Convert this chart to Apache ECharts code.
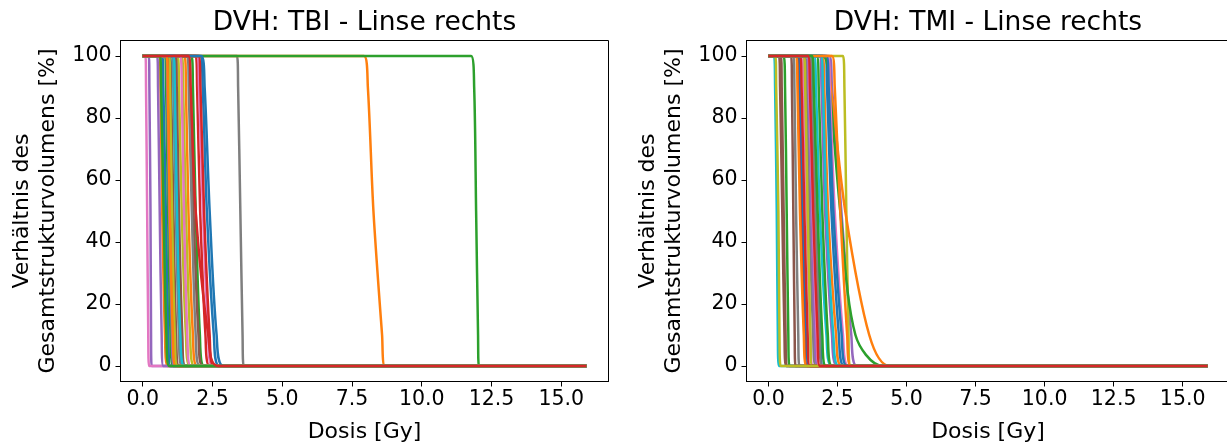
<!DOCTYPE html>
<html>
<head>
<meta charset="utf-8">
<script src="https://cdn.jsdelivr.net/npm/echarts@6/dist/echarts.min.js"></script>
<style>
html, body { margin: 0; background: #fff; }
#main { width: 1227px; height: 443px; }
</style>
</head>
<body>
<div id="main"></div>
<script>
const volumeLevels = [100, 90, 50, 10, 0];
const doseEnd = 15.9;
const titles = ['DVH: TBI - Linse rechts', 'DVH: TMI - Linse rechts'];
const xTicks = [0, 2.5, 5, 7.5, 10, 12.5, 15];
const yTicks = [0, 20, 40, 60, 80, 100];

// one row per patient curve: dose at 100, 90, 50, 10, 0 %
const tbiDoses = [
    [2.05, 2.15, 2.30, 2.55, 2.75],
    [1.50, 1.55, 1.64, 1.80, 1.95],
    [1.75, 1.80, 1.90, 2.05, 2.20],
    [1.90, 1.95, 2.06, 2.25, 2.40],
    [0.22, 0.24, 0.28, 0.30, 0.32],
    [1.65, 1.70, 1.82, 2.00, 2.15],
    [0.10, 0.12, 0.16, 0.20, 0.23],
    [1.60, 1.65, 1.76, 1.90, 2.05],
    [1.25, 1.30, 1.40, 1.55, 1.70],
    [0.65, 0.70, 0.77, 0.88, 0.98],
    [0.70, 0.74, 0.83, 0.92, 1.00],
    [0.60, 0.64, 0.70, 0.80, 0.90],
    [0.80, 0.84, 0.91, 1.00, 1.10],
    [0.92, 0.96, 1.04, 1.15, 1.25],
    [0.52, 0.55, 0.61, 0.68, 0.74],
    [0.98, 1.02, 1.10, 1.20, 1.30],
    [1.95, 2.02, 2.16, 2.35, 2.50],
    [3.38, 3.42, 3.50, 3.58, 3.62],
    [1.40, 1.45, 1.55, 1.70, 1.85],
    [1.05, 1.10, 1.19, 1.32, 1.45],
    [1.12, 1.17, 1.26, 1.40, 1.52],
    [7.93, 8.07, 8.27, 8.58, 8.68],
    [11.77, 11.88, 11.95, 12.02, 12.05],
    [2.00, 2.07, 2.20, 2.40, 2.55],
    [0.85, 0.88, 0.95, 1.05, 1.12],
    [1.18, 1.22, 1.30, 1.42, 1.52],
    [1.35, 1.40, 1.48, 1.60, 1.72],
    [1.08, 1.12, 1.20, 1.30, 1.40],
    [0.95, 0.98, 1.05, 1.15, 1.25],
    [1.10, 1.15, 1.23, 1.35, 1.50],
    [2.10, 2.22, 2.40, 2.65, 2.90],
    [0.85, 0.90, 0.97, 1.08, 1.18],
    [0.62, 0.66, 0.75, 0.85, 0.95],
    [1.64, 1.72, 1.90, 2.35, 2.70]
];

const tmiDoses = [
    [1.55, 1.62, 1.74, 1.88, 1.98],
    [1.95, 2.02, 2.16, 2.45, 2.65],
    [0.55, 0.60, 0.66, 0.72, 0.76],
    [1.45, 1.52, 1.62, 1.75, 1.85],
    [2.20, 2.30, 2.64, 3.00, 3.20],
    [0.38, 0.42, 0.50, 0.58, 0.64],
    [1.22, 1.28, 1.38, 1.52, 1.62],
    [1.32, 1.38, 1.48, 1.62, 1.72],
    [2.70, 2.75, 2.82, 2.90, 2.95],
    [0.20, 0.24, 0.30, 0.34, 0.38],
    [2.05, 2.12, 2.28, 2.55, 2.75],
    [2.00, 2.25, 2.78, 3.65, 4.40],
    [1.95, 2.20, 2.60, 3.15, 4.15],
    [1.05, 1.10, 1.20, 1.32, 1.40],
    [1.38, 1.45, 1.55, 1.68, 1.78],
    [0.82, 0.85, 0.90, 0.95, 0.98],
    [2.15, 2.22, 2.40, 2.70, 2.90],
    [0.90, 0.94, 1.00, 1.08, 1.12],
    [1.28, 1.33, 1.42, 1.52, 1.58],
    [1.65, 1.72, 1.86, 2.10, 2.30],
    [1.10, 1.15, 1.25, 1.38, 1.48],
    [1.00, 1.05, 1.14, 1.28, 1.38],
    [1.75, 1.82, 1.95, 2.15, 2.30],
    [1.15, 1.20, 1.30, 1.42, 1.50],
    [1.85, 1.92, 2.05, 2.30, 2.50],
    [0.45, 0.48, 0.55, 0.62, 0.66],
    [1.42, 1.48, 1.60, 1.75, 1.85],
    [1.50, 1.56, 1.70, 1.85, 1.95],
    [0.25, 0.28, 0.36, 0.40, 0.44],
    [1.90, 1.97, 2.10, 2.35, 2.55],
    [2.10, 2.18, 2.35, 2.65, 2.85],
    [2.30, 2.40, 2.60, 2.85, 2.98],
    [1.58, 1.64, 1.78, 1.95, 2.08],
    [1.43, 1.50, 1.62, 1.78, 1.86]
];

const tab10 = ['#1f77b4', '#ff7f0e', '#2ca02c', '#d62728', '#9467bd',
               '#8c564b', '#e377c2', '#7f7f7f', '#bcbd22', '#17becf'];

const font = 'DejaVu Sans';

// axes frames (matplotlib-like 5% margins around the data)
const boxes = [
    { left: 120.5, top: 40.5, width: 488, height: 341 },
    { left: 746.5, top: 40.5, width: 483, height: 341 }
];
const xMin = -0.795, xMax = 16.695;
const yMin = -5, yMax = 105;

function curveData(row) {
    const pts = [[0, 100]];
    volumeLevels.forEach((v, k) => pts.push([row[k], v]));
    pts.push([doseEnd, 0]);
    return pts;
}

const tickStyle = { show: true, length: 5, lineStyle: { color: '#000', width: 1 } };

const grids = boxes.map(b => Object.assign({
    show: true, borderColor: '#000', borderWidth: 1, backgroundColor: 'transparent',
    containLabel: false, outerBoundsMode: 'none'
}, b));

const xAxes = boxes.map((b, i) => ({
    type: 'value', gridIndex: i, min: xMin, max: xMax,
    name: 'Dosis [Gy]', nameLocation: 'middle', nameGap: 40,
    nameTextStyle: { fontFamily: font, fontSize: 22, color: '#000' },
    axisLine: { show: true, onZero: false, lineStyle: { color: '#000', width: 1 } },
    axisTick: Object.assign({ customValues: xTicks }, tickStyle),
    axisLabel: { customValues: xTicks, fontFamily: font, fontSize: 20.5, color: '#000',
                 margin: 8, formatter: v => v.toFixed(1) },
    splitLine: { show: false }
}));

const yAxes = boxes.map((b, i) => ({
    type: 'value', gridIndex: i, min: yMin, max: yMax,
    name: 'Verhältnis des\nGesamtstrukturvolumens [%]', nameLocation: 'middle',
    nameGap: 59, nameRotate: 90,
    nameTextStyle: { fontFamily: font, fontSize: 22, color: '#000', lineHeight: 26 },
    axisLine: { show: true, onZero: false, lineStyle: { color: '#000', width: 1 } },
    axisTick: Object.assign({ customValues: yTicks }, tickStyle),
    axisLabel: { customValues: yTicks, fontFamily: font, fontSize: 20.5, color: '#000',
                 margin: 9 },
    splitLine: { show: false }
}));

const titleList = boxes.map((b, i) => ({
    text: titles[i], left: b.left + b.width / 2, top: 10,
    textAlign: 'center', padding: 0,
    textStyle: { fontFamily: font, fontSize: 26.5, fontWeight: 'normal', color: '#000' }
}));

const series = [];
[tbiDoses, tmiDoses].forEach((rows, i) => {
    rows.forEach((row, k) => {
        series.push({
            type: 'line', xAxisIndex: i, yAxisIndex: i,
            data: curveData(row),
            symbol: 'none', silent: true, smooth: 0.3,
            color: tab10[k % 10],
            lineStyle: { width: 2.5, color: tab10[k % 10] }
        });
    });
});

const chart = echarts.init(document.getElementById('main'), null, { renderer: 'canvas' });
chart.setOption({
    backgroundColor: '#fff',
    animation: false,
    title: titleList,
    grid: grids,
    xAxis: xAxes,
    yAxis: yAxes,
    series: series
});
</script>
</body>
</html>
